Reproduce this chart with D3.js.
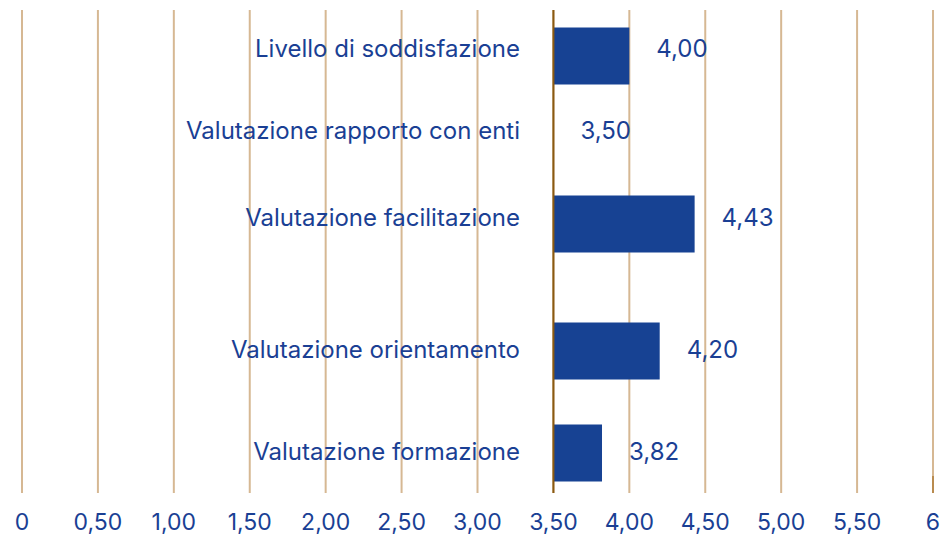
<!DOCTYPE html>
<html>
<head>
<meta charset="utf-8">
<script src="https://cdn.jsdelivr.net/npm/d3@7"></script>
<style>
  body { margin: 0; background: #fff; }
  text { font-family: Inter, "Noto Sans", sans-serif; fill: #1a3f94; }
</style>
</head>
<body>
<div id="chart"></div>
<script>
var categories = ["Livello di soddisfazione", "Valutazione rapporto con enti", "Valutazione facilitazione", "Valutazione orientamento", "Valutazione formazione"]
var values = [4.00, 3.50, 4.43, 4.20, 3.82]
var tickValues = [0, 0.5, 1, 1.5, 2, 2.5, 3, 3.5, 4, 4.5, 5, 5.5, 6]
var baseValue = 3.5

var width = 944, height = 537

var svg = d3.select("#chart")
  .append("svg")
    .attr("width", width)
    .attr("height", height)

var x = d3.scaleLinear()
  .domain([0, 6])
  .range([22, 933])

// rows are not evenly spaced in the original
var y = d3.scaleOrdinal()
  .domain(categories)
  .range([56, 132, 224, 351, 453])

var barHeight = 57
var fmt = function(d){ return d3.format(".2f")(d).replace(".", ",") }

// gridlines
svg.append("g")
  .selectAll("line")
  .data(tickValues)
  .enter().append("line")
    .attr("x1", function(d){ return x(d) })
    .attr("x2", function(d){ return x(d) })
    .attr("y1", 10)
    .attr("y2", 493)
    .attr("stroke", "#d6b893")
    .attr("stroke-width", 2)

// darker stub on the last line
svg.append("line")
  .attr("x1", x(6)).attr("x2", x(6))
  .attr("y1", 476).attr("y2", 493)
  .attr("stroke", "#b98b4f")
  .attr("stroke-width", 2)

// tick labels
svg.append("g")
  .selectAll("text")
  .data(tickValues)
  .enter().append("text")
    .attr("x", function(d){ return x(d) })
    .attr("y", 524)
    .attr("text-anchor", "middle")
    .attr("dominant-baseline", "middle")
    .style("font-size", "23px")
    .text(function(d){ return d === 0 || d === 6 ? d : fmt(d) })

// category labels
svg.append("g")
  .selectAll("text")
  .data(categories)
  .enter().append("text")
    .attr("x", 520)
    .attr("y", function(d, i){ return y(d) - (i === 0 ? 6 : i === 2 ? 5 : 0) })
    .attr("text-anchor", "end")
    .attr("dominant-baseline", "middle")
    .style("font-size", "24px")
    .text(function(d){ return d })

// bars
svg.append("g")
  .selectAll("rect")
  .data(values)
  .enter().append("rect")
    .attr("x", x(baseValue))
    .attr("y", function(d, i){ return y(categories[i]) - barHeight / 2 })
    .attr("width", function(d){ return x(d) - x(baseValue) })
    .attr("height", barHeight)
    .attr("fill", "#174293")

// baseline at 3,50
svg.append("line")
  .attr("x1", x(baseValue)).attr("x2", x(baseValue))
  .attr("y1", 10).attr("y2", 493)
  .attr("stroke", "#8a5a12")
  .attr("stroke-width", 2)

// value labels
svg.append("g")
  .selectAll("text")
  .data(values)
  .enter().append("text")
    .attr("x", function(d){ return x(d) + 27 })
    .attr("y", function(d, i){ return y(categories[i]) - (i === 0 ? 6 : i === 2 ? 5 : 0) })
    .attr("dominant-baseline", "middle")
    .style("font-size", "24px")
    .text(function(d){ return fmt(d) })
</script>
</body>
</html>
